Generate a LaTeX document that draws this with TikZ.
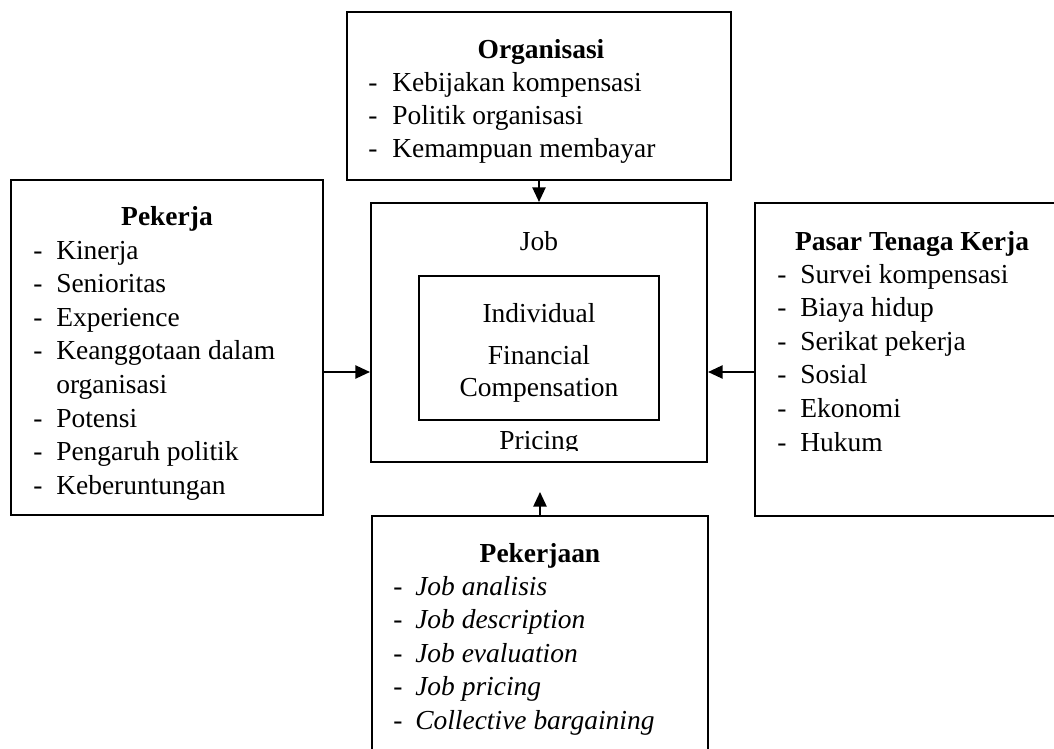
\documentclass[tikz,border=0pt]{standalone}
\usepackage{fontspec}
\setmainfont{Liberation Serif}
\usetikzlibrary{arrows.meta,fit}
\begin{document}
\begin{tikzpicture}[x=0.75pt,y=-0.75pt,
  box/.style={draw, line width=1.6pt, inner sep=0pt},
  txt/.style={anchor=base west, inner sep=0pt, font=\fontsize{20.6}{24}\selectfont},
  itxt/.style={txt, font=\fontsize{20.6}{24}\selectfont\itshape},
  ttl/.style={anchor=base, inner sep=0pt, font=\fontsize{20.6}{24}\selectfont\bfseries},
  ctr/.style={anchor=base, inner sep=0pt, font=\fontsize{20.6}{24}\selectfont},
  arr/.style={line width=1.2pt, -{Triangle[length=11pt,width=10pt]}}]
\clip (0,0) rectangle (1054,749);
\fill[white] (0,0) rectangle (1054,749);

% boxes
\node[box, fit={(347,12) (731,180)}] (org) {};
\node[box, fit={(11,180) (323,515)}] (pkj) {};
\node[box, fit={(371,203) (707,462)}] (job) {};
\node[box, fit={(419,276) (659,420)}] (ind) {};
\node[box, fit={(755,203) (1070,516)}] (pasar) {};
\node[box, fit={(372,516) (708,770)}] (pkn) {};

% connectors
\draw[arr] (org.south) -- (job.north);
\draw[arr] (pkj.east |- 0,372) -- (job.west |- 0,372);
\draw[arr] (pasar.west |- 0,372) -- (job.east |- 0,372);
\coordinate (tip) at (540,492);
\draw[arr] (pkn.north) -- (tip);

% Organisasi
\node[ttl] (orgT) at (541,59) {Organisasi};
\foreach \t [count=\i] in {Kebijakan kompensasi, Politik organisasi, Kemampuan membayar} {
  \node[txt] (orgd\i) at ({368},{92+32.5*(\i-1)}) {-};
  \node[txt] (orgt\i) at ({392},{92+32.5*(\i-1)}) {\t};
}

% Pekerja
\node[ttl] (pkjT) at (167,225) {Pekerja};
\foreach \t [count=\i] in {Kinerja, Senioritas, Experience, Keanggotaan dalam, organisasi, Potensi, Pengaruh politik, Keberuntungan} {
  \node[txt] (pkjt\i) at ({56},{259+33.6*(\i-1)}) {\t};
}
\foreach \i in {1,2,3,4,6,7,8} {
  \node[txt] (pkjd\i) at ({33},{259+33.6*(\i-1)}) {-};
}

% centre
\node[ctr] (jobT) at (539,250) {Job};
\node[ctr] (indT) at (539,322) {Individual};
\node[ctr] (finT) at (539,364) {Financial};
\node[ctr] (comT) at (539,396) {Compensation};
\begin{scope}
  \clip (371,203) rectangle (707,450.5);
  \node[ctr] (priT) at (539,449) {Pricing};
\end{scope}

% Pasar Tenaga Kerja
\node[ttl] (pasT) at (912,250) {Pasar Tenaga Kerja};
\foreach \t [count=\i] in {Survei kompensasi, Biaya hidup, Serikat pekerja, Sosial, Ekonomi, Hukum} {
  \node[txt] (pasd\i) at ({777},{283+33.6*(\i-1)}) {-};
  \node[txt] (past\i) at ({800},{283+33.6*(\i-1)}) {\t};
}

% Pekerjaan
\node[ttl] (pknT) at (540,562) {Pekerjaan};
\foreach \t [count=\i] in {Job analisis, Job description, Job evaluation, Job pricing, Collective bargaining} {
  \node[txt] (pknd\i) at ({393},{595+33.6*(\i-1)}) {-};
  \node[itxt] (pknt\i) at ({415},{595+33.6*(\i-1)}) {\t};
}
\end{tikzpicture}
\end{document}
